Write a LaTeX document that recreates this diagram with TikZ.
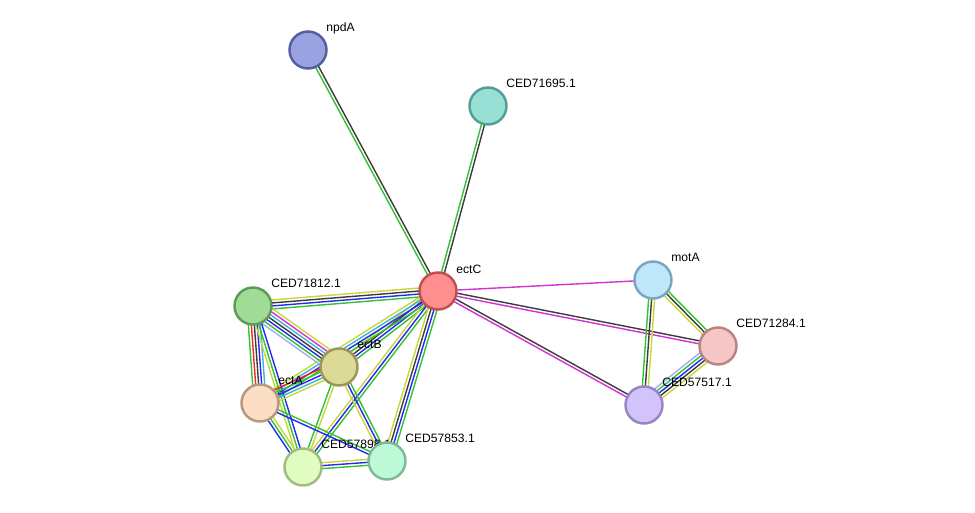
\documentclass[tikz,border=0pt]{standalone}
\usepackage{fontspec}
\setmainfont{Liberation Sans}
\usetikzlibrary{calc}
\usetikzlibrary{backgrounds}
\definecolor{eVerde}{RGB}{50,195,50}
\definecolor{eNegro}{RGB}{60,60,60}
\definecolor{eAmarillo}{RGB}{200,215,60}
\definecolor{eAzul}{RGB}{40,40,240}
\definecolor{eMagenta}{RGB}{210,50,210}
\definecolor{eRojo}{RGB}{240,40,40}
\definecolor{eCian}{RGB}{60,180,220}
\definecolor{eLavanda}{RGB}{170,170,250}
\tikzset{
  proteina/.style={
    circle, minimum size=0.74cm, inner sep=0pt, line width=1.4pt
  },
  etiqueta/.style={anchor=base west, inner sep=0pt, font=\fontsize{6.9}{8}\selectfont},
  enlace/.style={line width=0.8pt}
}
% arista con varias lineas paralelas, una por canal
\newcommand{\enlace}[3]{%
  \xdef\total{0}%
  \foreach \c in {#3}{\xdef\total{\the\numexpr\total+1\relax}}%
  \foreach \c [count=\i] in {#3}{%
    \pgfmathsetmacro\o{(\i-(\total+1)/2)*0.06}%
    \draw[enlace, \c] ($(#1.center)!\o cm!90:(#2.center)$) -- ($(#2.center)!\o cm!-90:(#1.center)$);
  }%
}

\begin{document}
\begin{tikzpicture}[x=0.02cm, y=-0.02cm]
  \useasboundingbox (0,0) rectangle (975,513);
  % proteinas
  \node[proteina, fill={rgb,255:red,154;green,163;blue,226}, draw={rgb,255:red,85;green,94;blue,160}] (npdA) at (308,50) {};
  \node[etiqueta] (l-npdA) at ($(npdA)+(18,-18)$) {npdA};
  \node[proteina, fill={rgb,255:red,152;green,224;blue,214}, draw={rgb,255:red,84;green,158;blue,148}] (c71695) at (488,106) {};
  \node[etiqueta] (l-c71695) at ($(c71695)+(18,-18)$) {CED71695.1};
  \node[proteina, fill={rgb,255:red,255;green,143;blue,143}, draw={rgb,255:red,192;green,80;blue,80}] (ectC) at (438,291) {};
  \node[etiqueta] (l-ectC) at ($(ectC)+(18,-17)$) {ectC};
  \node[proteina, fill={rgb,255:red,192;green,230;blue,250}, draw={rgb,255:red,122;green,166;blue,196}] (motA) at (653,280) {};
  \node[etiqueta] (l-motA) at ($(motA)+(18,-18)$) {motA};
  \node[proteina, fill={rgb,255:red,246;green,198;blue,198}, draw={rgb,255:red,184;green,132;blue,132}] (c71284) at (718,346) {};
  \node[etiqueta] (l-c71284) at ($(c71284)+(18,-18)$) {CED71284.1};
  \node[proteina, fill={rgb,255:red,210;green,196;blue,250}, draw={rgb,255:red,150;green,132;blue,196}] (c57517) at (644,405) {};
  \node[etiqueta] (l-c57517) at ($(c57517)+(18,-18)$) {CED57517.1};
  \node[proteina, fill={rgb,255:red,160;green,220;blue,150}, draw={rgb,255:red,95;green,154;blue,90}] (c71812) at (253,306) {};
  \node[etiqueta] (l-c71812) at ($(c71812)+(18,-18)$) {CED71812.1};
  \node[proteina, fill={rgb,255:red,220;green,218;blue,150}, draw={rgb,255:red,154;green,152;blue,88}] (ectB) at (339,367) {};
  \node[etiqueta] (l-ectB) at ($(ectB)+(18,-18)$) {ectB};
  \node[proteina, fill={rgb,255:red,252;green,222;blue,196}, draw={rgb,255:red,184;green,152;blue,126}] (ectA) at (260,403) {};
  \node[etiqueta] (l-ectA) at ($(ectA)+(18,-18)$) {ectA};
  \node[proteina, fill={rgb,255:red,224;green,252;blue,192}, draw={rgb,255:red,160;green,188;blue,128}] (c57898) at (303,467) {};
  \node[etiqueta] (l-c57898) at ($(c57898)+(18,-18)$) {CED57898.1};
  \node[proteina, fill={rgb,255:red,190;green,250;blue,216}, draw={rgb,255:red,126;green,186;blue,152}] (c57853) at (387,461) {};
  \node[etiqueta] (l-c57853) at ($(c57853)+(18,-18)$) {CED57853.1};

  \begin{scope}[on background layer]
    \fill[white] (0,0) rectangle (975,513);
    \enlace{npdA}{ectC}{eVerde,eNegro}
    \enlace{c71695}{ectC}{eVerde,eNegro}
    \enlace{ectC}{motA}{eMagenta}
    \enlace{ectC}{c71284}{eMagenta,eNegro}
    \enlace{ectC}{c57517}{eMagenta,eNegro}
    \enlace{motA}{c71284}{eAmarillo,eNegro,eVerde}
    \enlace{motA}{c57517}{eVerde,eNegro,eAmarillo}
    \enlace{c57517}{c71284}{eAmarillo,eNegro,eAzul,eVerde,eLavanda}
    \enlace{c71812}{ectC}{eVerde,eAzul,eNegro,eAmarillo}
    \enlace{ectC}{ectB}{eAmarillo,eNegro,eAzul,eVerde}
    \enlace{ectC}{ectA}{eAmarillo,eCian,eAzul,eVerde}
    \enlace{ectC}{c57898}{eAmarillo,eAzul,eVerde}
    \enlace{ectC}{c57853}{eAmarillo,eNegro,eAzul,eVerde}
    \enlace{c71812}{ectB}{eLavanda,eVerde,eAzul,eNegro,eCian,eMagenta,eAmarillo}
    \enlace{c71812}{ectA}{eVerde,eRojo,eNegro,eAzul,eCian}
    \enlace{c71812}{c57898}{eAmarillo,eVerde,eAzul}
    \enlace{ectA}{ectB}{eAmarillo,eCian,eAzul,eVerde,eRojo}
    \enlace{ectB}{c57898}{eVerde,eAmarillo}
    \enlace{ectB}{c57853}{eAmarillo,eAzul,eVerde}
    \enlace{ectA}{c57898}{eAzul,eVerde,eAmarillo}
    \enlace{ectA}{c57853}{eAzul,eVerde}
    \enlace{c57898}{c57853}{eVerde,eAzul,eAmarillo}
  \end{scope}
\end{tikzpicture}
\end{document}
